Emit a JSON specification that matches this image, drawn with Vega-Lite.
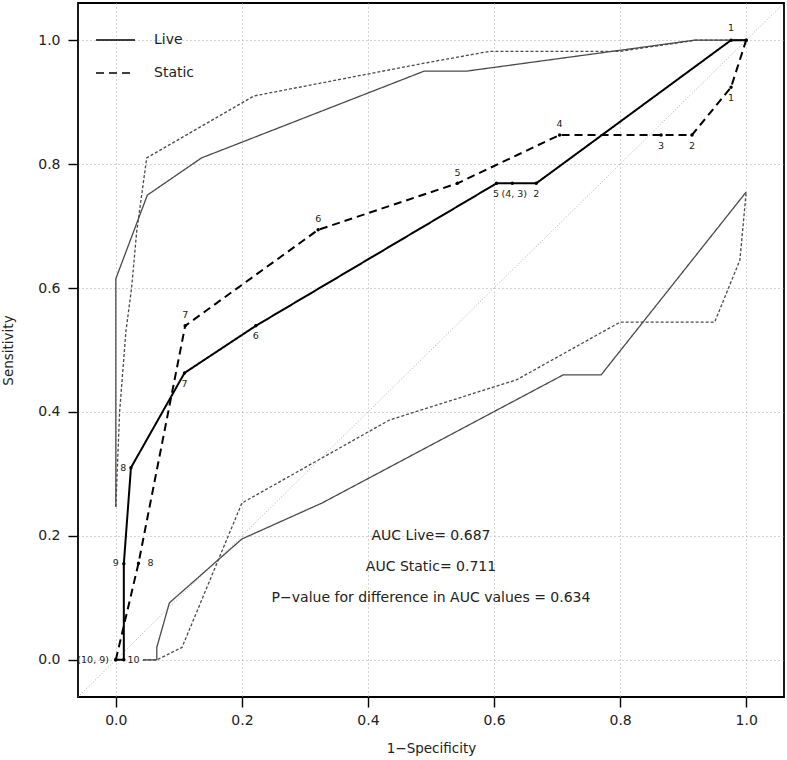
{
  "$schema": "https://vega.github.io/schema/vega-lite/v6.json",
  "autosize": "none",
  "width": 706,
  "height": 694,
  "padding": {"left": 78, "top": 3, "right": 3, "bottom": 63},
  "background": "white",
  "config": {
    "view": {"stroke": "black", "strokeWidth": 1.8},
    "font": "DejaVu Sans",
    "axis": {
      "domain": false,
      "tickSize": 10,
      "tickColor": "black",
      "tickWidth": 1.4,
      "labelFont": "DejaVu Sans",
      "labelFontSize": 14,
      "labelColor": "#222",
      "labelFlush": false,
      "labelOverlap": false,
      "titleFont": "DejaVu Sans",
      "titleFontSize": 13.5,
      "titleFontWeight": "normal",
      "titleColor": "#222",
      "grid": true,
      "gridDash": [1, 3],
      "gridColor": "#aaaaaa",
      "gridWidth": 1
    }
  },
  "datasets": {
    "diag": [{"fpr": -0.06, "tpr": -0.06}, {"fpr": 1.06, "tpr": 1.06}],
    "roc": [
      {"series": "Live", "i": 1, "fpr": 0, "tpr": 0},
      {"series": "Live", "i": 2, "fpr": 0.0127, "tpr": 0},
      {"series": "Live", "i": 3, "fpr": 0.0127, "tpr": 0.155},
      {"series": "Live", "i": 4, "fpr": 0.024, "tpr": 0.31},
      {"series": "Live", "i": 5, "fpr": 0.109, "tpr": 0.463},
      {"series": "Live", "i": 6, "fpr": 0.222, "tpr": 0.539},
      {"series": "Live", "i": 7, "fpr": 0.604, "tpr": 0.769},
      {"series": "Live", "i": 8, "fpr": 0.629, "tpr": 0.769},
      {"series": "Live", "i": 9, "fpr": 0.667, "tpr": 0.769},
      {"series": "Live", "i": 10, "fpr": 0.976, "tpr": 1.0},
      {"series": "Live", "i": 11, "fpr": 1.0, "tpr": 1.0},
      {"series": "Static", "i": 1, "fpr": 0, "tpr": 0},
      {"series": "Static", "i": 2, "fpr": 0.036, "tpr": 0.156},
      {"series": "Static", "i": 3, "fpr": 0.11, "tpr": 0.539},
      {"series": "Static", "i": 4, "fpr": 0.321, "tpr": 0.694},
      {"series": "Static", "i": 5, "fpr": 0.542, "tpr": 0.769},
      {"series": "Static", "i": 6, "fpr": 0.704, "tpr": 0.847},
      {"series": "Static", "i": 7, "fpr": 0.865, "tpr": 0.847},
      {"series": "Static", "i": 8, "fpr": 0.914, "tpr": 0.847},
      {"series": "Static", "i": 9, "fpr": 0.976, "tpr": 0.924},
      {"series": "Static", "i": 10, "fpr": 1.0, "tpr": 1.0}
    ],
    "bands": [
      {"band": "Live", "curve": "Live upper", "i": 1, "fpr": 0, "tpr": 0.247},
      {"band": "Live", "curve": "Live upper", "i": 2, "fpr": 0, "tpr": 0.615},
      {"band": "Live", "curve": "Live upper", "i": 3, "fpr": 0.05, "tpr": 0.75},
      {"band": "Live", "curve": "Live upper", "i": 4, "fpr": 0.136, "tpr": 0.81},
      {"band": "Live", "curve": "Live upper", "i": 5, "fpr": 0.489, "tpr": 0.95},
      {"band": "Live", "curve": "Live upper", "i": 6, "fpr": 0.556, "tpr": 0.95},
      {"band": "Live", "curve": "Live upper", "i": 7, "fpr": 0.918, "tpr": 1.0},
      {"band": "Live", "curve": "Live upper", "i": 8, "fpr": 1.0, "tpr": 1.0},
      {"band": "Live", "curve": "Live lower", "i": 1, "fpr": 0.043, "tpr": 0},
      {"band": "Live", "curve": "Live lower", "i": 2, "fpr": 0.065, "tpr": 0},
      {"band": "Live", "curve": "Live lower", "i": 3, "fpr": 0.065, "tpr": 0.02},
      {"band": "Live", "curve": "Live lower", "i": 4, "fpr": 0.085, "tpr": 0.092},
      {"band": "Live", "curve": "Live lower", "i": 5, "fpr": 0.2, "tpr": 0.195},
      {"band": "Live", "curve": "Live lower", "i": 6, "fpr": 0.327, "tpr": 0.253},
      {"band": "Live", "curve": "Live lower", "i": 7, "fpr": 0.71, "tpr": 0.46},
      {"band": "Live", "curve": "Live lower", "i": 8, "fpr": 0.77, "tpr": 0.46},
      {"band": "Live", "curve": "Live lower", "i": 9, "fpr": 1.0, "tpr": 0.755},
      {"band": "Static", "curve": "Static upper", "i": 1, "fpr": 0, "tpr": 0.247},
      {"band": "Static", "curve": "Static upper", "i": 2, "fpr": 0.006, "tpr": 0.4},
      {"band": "Static", "curve": "Static upper", "i": 3, "fpr": 0.016, "tpr": 0.53},
      {"band": "Static", "curve": "Static upper", "i": 4, "fpr": 0.025, "tpr": 0.6},
      {"band": "Static", "curve": "Static upper", "i": 5, "fpr": 0.033, "tpr": 0.69},
      {"band": "Static", "curve": "Static upper", "i": 6, "fpr": 0.049, "tpr": 0.81},
      {"band": "Static", "curve": "Static upper", "i": 7, "fpr": 0.219, "tpr": 0.91},
      {"band": "Static", "curve": "Static upper", "i": 8, "fpr": 0.49, "tpr": 0.963},
      {"band": "Static", "curve": "Static upper", "i": 9, "fpr": 0.593, "tpr": 0.982},
      {"band": "Static", "curve": "Static upper", "i": 10, "fpr": 0.8, "tpr": 0.982},
      {"band": "Static", "curve": "Static upper", "i": 11, "fpr": 0.92, "tpr": 1.0},
      {"band": "Static", "curve": "Static upper", "i": 12, "fpr": 1.0, "tpr": 1.0},
      {"band": "Static", "curve": "Static lower", "i": 1, "fpr": 0.043, "tpr": 0},
      {"band": "Static", "curve": "Static lower", "i": 2, "fpr": 0.065, "tpr": 0},
      {"band": "Static", "curve": "Static lower", "i": 3, "fpr": 0.105, "tpr": 0.02},
      {"band": "Static", "curve": "Static lower", "i": 4, "fpr": 0.2, "tpr": 0.253},
      {"band": "Static", "curve": "Static lower", "i": 5, "fpr": 0.434, "tpr": 0.387},
      {"band": "Static", "curve": "Static lower", "i": 6, "fpr": 0.636, "tpr": 0.452},
      {"band": "Static", "curve": "Static lower", "i": 7, "fpr": 0.8, "tpr": 0.545},
      {"band": "Static", "curve": "Static lower", "i": 8, "fpr": 0.95, "tpr": 0.545},
      {"band": "Static", "curve": "Static lower", "i": 9, "fpr": 0.99, "tpr": 0.645},
      {"band": "Static", "curve": "Static lower", "i": 10, "fpr": 1.0, "tpr": 0.755}
    ],
    "labels": [
      {"text": "10", "fpr": 0.028, "tpr": 0.0},
      {"text": "9", "fpr": 0.0, "tpr": 0.156},
      {"text": "8", "fpr": 0.012, "tpr": 0.31},
      {"text": "7", "fpr": 0.109, "tpr": 0.445},
      {"text": "6", "fpr": 0.222, "tpr": 0.522},
      {"text": "5", "fpr": 0.603, "tpr": 0.751},
      {"text": "(4, 3)", "fpr": 0.632, "tpr": 0.751},
      {"text": "2", "fpr": 0.667, "tpr": 0.751},
      {"text": "1", "fpr": 0.976, "tpr": 1.019},
      {"text": "(10, 9)", "fpr": -0.036, "tpr": 0.0},
      {"text": "8", "fpr": 0.055, "tpr": 0.156},
      {"text": "7", "fpr": 0.11, "tpr": 0.556},
      {"text": "6", "fpr": 0.321, "tpr": 0.711},
      {"text": "5", "fpr": 0.542, "tpr": 0.786},
      {"text": "4", "fpr": 0.704, "tpr": 0.864},
      {"text": "3", "fpr": 0.865, "tpr": 0.83},
      {"text": "2", "fpr": 0.914, "tpr": 0.83},
      {"text": "1", "fpr": 0.976, "tpr": 0.907}
    ],
    "notes": [
      {"text": "AUC Live= 0.687", "fpr": 0.5, "tpr": 0.2},
      {"text": "AUC Static= 0.711", "fpr": 0.5, "tpr": 0.15},
      {"text": "P−value for difference in AUC values = 0.634", "fpr": 0.5, "tpr": 0.1}
    ]
  },
  "encoding": {
    "x": {
      "field": "fpr", "type": "quantitative",
      "scale": {"domain": [-0.06, 1.06], "nice": false, "zero": false},
      "axis": {"values": [0, 0.2, 0.4, 0.6, 0.8, 1.0], "format": ".1f", "title": "1−Specificity", "labelPadding": 6, "titlePadding": 14}
    },
    "y": {
      "field": "tpr", "type": "quantitative",
      "scale": {"domain": [-0.06, 1.06], "nice": false, "zero": false},
      "axis": {"values": [0, 0.2, 0.4, 0.6, 0.8, 1.0], "format": ".1f", "title": "Sensitivity", "labelPadding": 8, "titlePadding": 22}
    }
  },
  "layer": [
    {
      "data": {"name": "diag"},
      "mark": {"type": "line", "stroke": "#999999", "strokeWidth": 0.8, "strokeDash": [1, 2]},
      "encoding": {}
    },
    {
      "data": {"name": "bands"},
      "mark": {"type": "line", "stroke": "#4a4a4a", "strokeWidth": 1.3},
      "encoding": {
        "detail": {"field": "curve"},
        "order": {"field": "i", "type": "quantitative"},
        "strokeDash": {"field": "band", "type": "nominal", "scale": {"domain": ["Live", "Static"], "range": [[1, 0], [3, 2]]}, "legend": null}
      }
    },
    {
      "data": {"name": "roc"},
      "mark": {"type": "line", "stroke": "black", "strokeWidth": 2},
      "encoding": {
        "order": {"field": "i", "type": "quantitative"},
        "strokeDash": {
          "field": "series", "type": "nominal",
          "scale": {"domain": ["Live", "Static"], "range": [[1, 0], [8, 5]]},
          "legend": {
            "title": null, "orient": "none", "legendX": 17, "legendY": 27,
            "symbolType": "stroke", "symbolSize": 1521, "symbolStrokeColor": "black", "symbolStrokeWidth": 1.3,
            "labelFont": "DejaVu Sans", "labelFontSize": 14, "labelColor": "#222", "labelOffset": 18,
            "clipHeight": 20, "rowPadding": 13, "padding": 0
          }
        }
      }
    },
    {
      "data": {"name": "roc"},
      "mark": {"type": "point", "filled": true, "color": "black", "size": 12, "opacity": 1}
    },
    {
      "data": {"name": "labels"},
      "mark": {"type": "text", "fontSize": 9.5, "color": "#222222", "align": "center", "baseline": "middle"},
      "encoding": {"text": {"field": "text"}}
    },
    {
      "data": {"name": "notes"},
      "mark": {"type": "text", "fontSize": 14, "color": "#222222", "align": "center", "baseline": "middle"},
      "encoding": {"text": {"field": "text"}}
    }
  ],
  "resolve": {"scale": {"strokeDash": "independent"}}
}
